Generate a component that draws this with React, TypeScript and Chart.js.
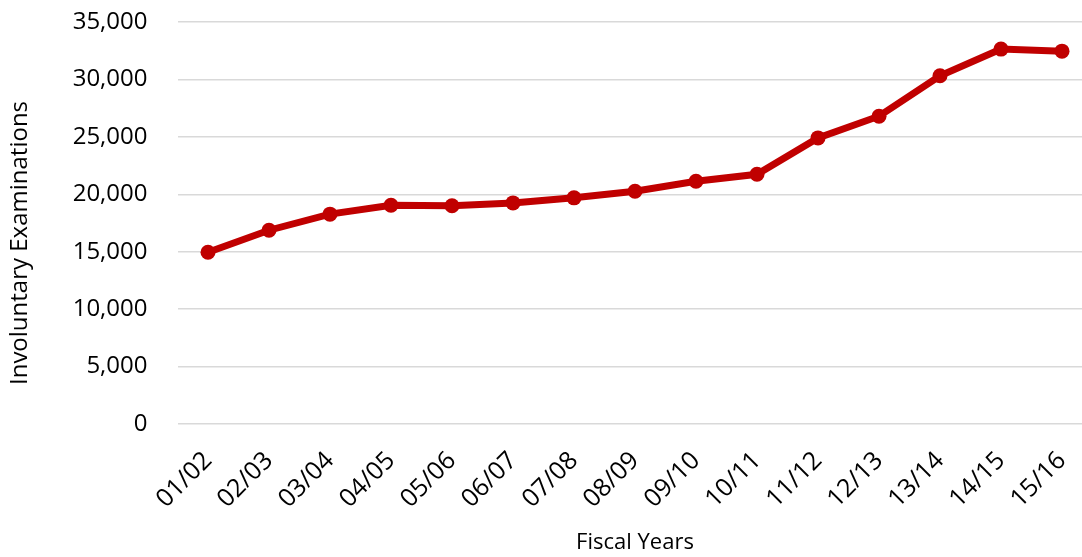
import React, { useEffect, useRef } from "react";
import { Chart, registerables } from "chart.js";

Chart.register(...registerables);

const categories = [
  "01/02", "02/03", "03/04", "04/05", "05/06", "06/07", "07/08", "08/09",
  "09/10", "10/11", "11/12", "12/13", "13/14", "14/15", "15/16",
];
const examinations = [
  14950, 16870, 18270, 19050, 19000, 19250, 19690, 20260,
  21130, 21740, 24910, 26800, 30320, 32640, 32460,
];
const yTitle = "Involuntary Examinations";
const xTitle = "Fiscal Years";

const FONT = "'Open Sans', 'Noto Sans', sans-serif";

const yTitlePlugin = {
  id: "yTitlePlugin",
  afterDraw(chart: any) {
    const { ctx, chartArea } = chart;
    ctx.save();
    ctx.font = `24px ${FONT}`;
    ctx.fillStyle = "#000";
    ctx.textAlign = "center";
    ctx.textBaseline = "middle";
    ctx.translate(20, (chartArea.top + chartArea.bottom) / 2 + 20);
    ctx.rotate(-Math.PI / 2);
    ctx.fillText(yTitle, 0, 0);
    ctx.restore();
  },
};

export default function App() {
  const ref = useRef<HTMLCanvasElement | null>(null);
  useEffect(() => {
    if (!ref.current) return;
    const chart = new Chart(ref.current, {
      type: "line",
      data: {
        labels: categories,
        datasets: [
          {
            data: examinations,
            borderColor: "#c00000",
            backgroundColor: "#c00000",
            borderWidth: 7,
            pointRadius: 7.5,
            pointHoverRadius: 7.5,
            pointBorderWidth: 0,
            pointBackgroundColor: "#c00000",
            tension: 0,
          },
        ],
      },
      options: {
        animation: false,
        responsive: true,
        maintainAspectRatio: false,
        layout: { padding: { top: 22, right: 7.5, left: 0, bottom: 0 } },
        plugins: {
          legend: { display: false },
          tooltip: { enabled: false },
        },
        scales: {
          x: {
            type: "category",
            offset: true,
            grid: { display: false, drawTicks: false },
            border: { display: false },
            ticks: {
              color: "#000",
              font: { family: FONT, size: 25 },
              minRotation: 45,
              maxRotation: 45,
              padding: 22,
              autoSkip: false,
            },
            title: {
              display: true,
              text: xTitle,
              color: "#000",
              font: { family: FONT, size: 22 },
              padding: { top: 0, bottom: 1 },
            },
            afterFit(scale: any) {
              scale.height = 133;
              scale.paddingLeft = 0;
              scale.paddingRight = 0;
            },
          },
          y: {
            min: 0,
            max: 35000,
            grid: { color: "#d9d9d9", lineWidth: 1.5, drawTicks: false },
            border: { display: false },
            ticks: {
              stepSize: 5000,
              color: "#000",
              font: { family: FONT, size: 24 },
              padding: 30,
              callback: (v: any) => Number(v).toLocaleString("en-US"),
            },
            afterFit(scale: any) {
              scale.width = 177.5;
              scale.paddingTop = 0;
              scale.paddingBottom = 0;
            },
          },
        },
      },
      plugins: [yTitlePlugin],
    });
    return () => chart.destroy();
  }, []);

  return (
    <div
      style={{
        position: "fixed",
        left: 0,
        top: 0,
        width: 1082,
        height: 557,
        overflow: "hidden",
        background: "#fff",
      }}
    >
      <div style={{ position: "relative", width: 1100, height: 557 }}>
        <canvas ref={ref} />
      </div>
    </div>
  );
}
